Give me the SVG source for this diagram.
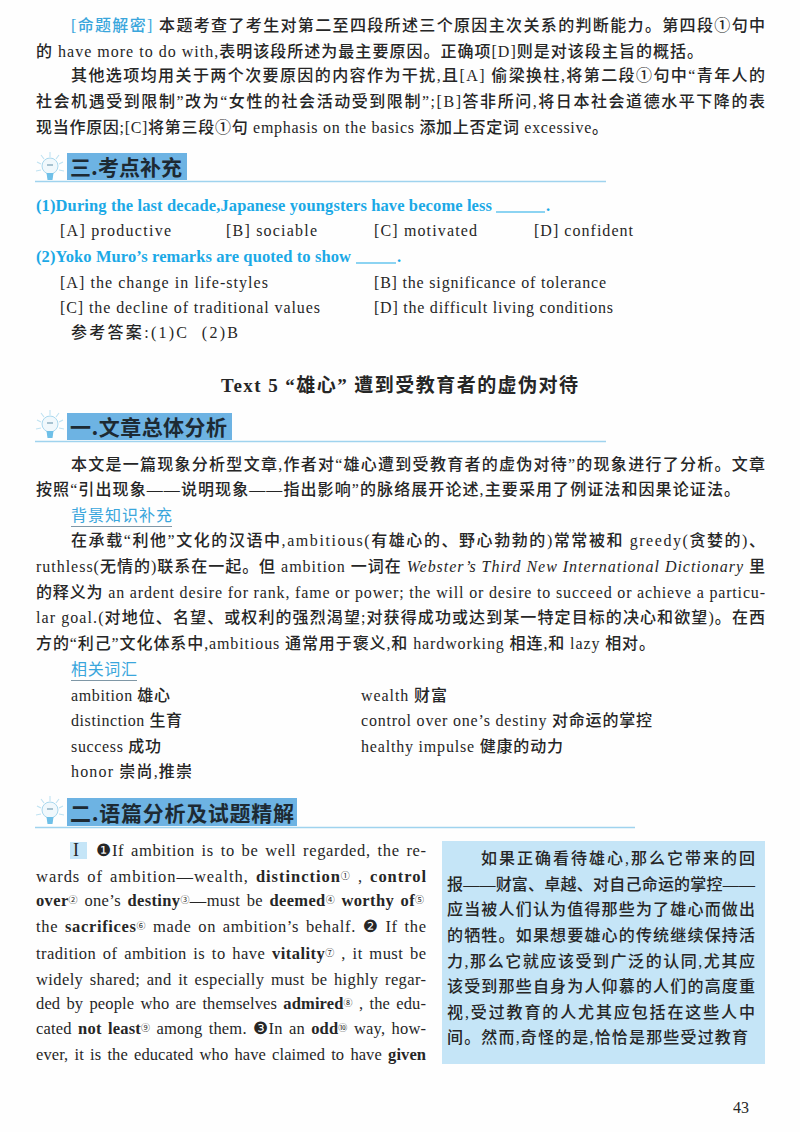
<svg xmlns="http://www.w3.org/2000/svg" width="800" height="1132" viewBox="0 0 800 1132">
<style>
text{font-family:"Liberation Serif","Noto Sans CJK SC",sans-serif;font-size:16px;fill:#262626;white-space:pre}
.cn{font-weight:500}
.bl{fill:#3aa6dc}
.q{fill:#1ba9e6;font-weight:700;font-size:16.5px}
.h{font-family:"Noto Sans CJK SC",sans-serif;font-size:21px;font-weight:700;fill:#1d2a33}
.hb{fill:#6db3e3}
.hl{stroke:#9fd3ee;stroke-width:1.6;fill:none}
.u{stroke:#7f97a6;stroke-width:1;fill:none}
.e{font-size:16.5px;word-spacing:2px}
.s{font-size:9px;baseline-shift:35%;font-weight:400}
.b{font-weight:700}
.n{font-family:"DejaVu Sans",sans-serif;font-size:17px}
.ray{stroke:#bfe2f2;stroke-width:1.1;fill:none}
</style>
<defs>
<g id="bulb">
<path class="ray" d="M14 1V6M5 4L8 8M23 4L20 8M1 11L5 13M27 11L23 13M0 20L5 19M28 20L23 19"/>
<circle cx="14" cy="15" r="8" fill="#f0f8fc" stroke="#a9d8ee"/>
<path d="M11 14H17" stroke="#8fb0c2" stroke-width="1.500"/>
<path d="M10.500 22L17.500 22L16.500 29H11.500Z" fill="#6fc0e8"/>
</g>
</defs>
<rect width="800" height="1132" fill="#fefefe"/>

<text x="71" y="31" textLength="694" class="cn"><tspan class="bl">[命题解密]</tspan> 本题考查了考生对第二至四段所述三个原因主次关系的判断能力。第四段①句中</text>
<text x="36" y="57" textLength="667" class="cn">的 have more to do with,表明该段所述为最主要原因。正确项[D]则是对该段主旨的概括。</text>
<text x="71" y="81" textLength="694" class="cn">其他选项均用关于两个次要原因的内容作为干扰,且[A] 偷梁换柱,将第二段①句中“青年人的</text>
<text x="36" y="107" textLength="729" class="cn">社会机遇受到限制”改为“女性的社会活动受到限制”;[B]答非所问,将日本社会道德水平下降的表</text>
<text x="36" y="133" textLength="572" class="cn">现当作原因;[C]将第三段①句 emphasis on the basics 添加上否定词 excessive。</text>

<use href="#bulb" x="36" y="151"/>
<rect class="hb" x="67" y="153" width="120" height="27"/>
<text class="h" x="70" y="175" textLength="112">三.考点补充</text>
<path class="hl" d="M35 181.500H606"/>

<text class="q" x="36" y="211" textLength="456">(1)During the last decade,Japanese youngsters have become less</text>
<path d="M496 212H545" stroke="#1ba9e6" stroke-width="1"/>
<text class="q" x="546" y="211">.</text>
<text x="60" y="236" textLength="111">[A] productive</text>
<text x="226" y="236" textLength="91">[B] sociable</text>
<text x="374" y="236" textLength="103">[C] motivated</text>
<text x="534" y="236" textLength="99">[D] confident</text>
<text class="q" x="36" y="262" textLength="315">(2)Yoko Muro’s remarks are quoted to show</text>
<path d="M356 263H396" stroke="#1ba9e6" stroke-width="1"/>
<text class="q" x="397" y="262">.</text>
<text x="60" y="288" textLength="208">[A] the change in life-styles</text>
<text x="374" y="288" textLength="232">[B] the significance of tolerance</text>
<text x="60" y="313" textLength="260">[C] the decline of traditional values</text>
<text x="374" y="313" textLength="239">[D] the difficult living conditions</text>
<text x="71" y="338" textLength="167" class="cn">参考答案:(1)C  (2)B</text>

<text x="221" y="392" textLength="357" style="font-size:19px;font-weight:700">Text 5 “雄心” 遭到受教育者的虚伪对待</text>

<use href="#bulb" x="36" y="409"/>
<rect class="hb" x="67" y="413" width="165" height="27"/>
<text class="h" x="70" y="435" textLength="157">一.文章总体分析</text>
<path class="hl" d="M35 441.500H606"/>

<text x="71" y="470" textLength="694" class="cn">本文是一篇现象分析型文章,作者对“雄心遭到受教育者的虚伪对待”的现象进行了分析。文章</text>
<text x="36" y="495" textLength="704" class="cn">按照“引出现象——说明现象——指出影响”的脉络展开论述,主要采用了例证法和因果论证法。</text>
<text x="71" y="521" class="bl" textLength="101">背景知识补充</text>
<path class="u" d="M71 526.500H172"/>
<text x="71" y="546" textLength="694" class="cn">在承载“利他”文化的汉语中,ambitious(有雄心的、野心勃勃的)常常被和 greedy(贪婪的)、</text>
<text x="36" y="572" textLength="729" class="cn">ruthless(无情的)联系在一起。但 ambition 一词在 <tspan font-style="italic">Webster’s Third New International Dictionary</tspan> 里</text>
<text x="36" y="598" textLength="729" class="cn">的释义为 an ardent desire for rank, fame or power; the will or desire to succeed or achieve a particu-</text>
<text x="36" y="623" textLength="729" class="cn">lar goal.(对地位、名望、或权利的强烈渴望;对获得成功或达到某一特定目标的决心和欲望)。在西</text>
<text x="36" y="649" textLength="619" class="cn">方的“利己”文化体系中,ambitious 通常用于褒义,和 hardworking 相连,和 lazy 相对。</text>
<text x="71" y="675" class="bl" textLength="66">相关词汇</text>
<path class="u" d="M71 680.500H137"/>
<text x="71" y="701" textLength="99" class="cn">ambition 雄心</text>
<text x="361" y="701" textLength="86" class="cn">wealth 财富</text>
<text x="71" y="726" textLength="111" class="cn">distinction 生育</text>
<text x="361" y="726" textLength="291" class="cn">control over one’s destiny 对命运的掌控</text>
<text x="71" y="752" textLength="90" class="cn">success 成功</text>
<text x="361" y="752" textLength="202" class="cn">healthy impulse 健康的动力</text>
<text x="71" y="777" textLength="121" class="cn">honor 崇尚,推崇</text>

<use href="#bulb" x="36" y="795"/>
<rect class="hb" x="67" y="798" width="230" height="28"/>
<text class="h" x="70" y="821" textLength="224">二.语篇分析及试题精解</text>
<path class="hl" d="M35 827.500H635"/>

<rect x="70" y="842" width="17" height="17" fill="#c5e5f7"/>
<text x="73" y="856" style="font-size:18px">I</text>
<text x="96" y="856" textLength="330" class="e"><tspan class="n">❶</tspan>If ambition is to be well regarded, the re-</text>
<text x="36" y="882" textLength="390" class="e">wards of ambition—wealth, <tspan class="b">distinction</tspan><tspan class="s">①</tspan> , <tspan class="b">control</tspan></text>
<text x="36" y="906" textLength="388" class="e"><tspan class="b">over</tspan><tspan class="s">②</tspan> one’s <tspan class="b">destiny</tspan><tspan class="s">③</tspan>—must be <tspan class="b">deemed</tspan><tspan class="s">④</tspan> <tspan class="b">worthy of</tspan><tspan class="s">⑤</tspan></text>
<text x="36" y="932" textLength="390" class="e">the <tspan class="b">sacrifices</tspan><tspan class="s">⑥</tspan> made on ambition’s behalf. <tspan class="n">❷</tspan> If the</text>
<text x="36" y="959" textLength="390" class="e">tradition of ambition is to have <tspan class="b">vitality</tspan><tspan class="s">⑦</tspan> , it must be</text>
<text x="36" y="985" textLength="390" class="e">widely shared; and it especially must be highly regar-</text>
<text x="36" y="1009" textLength="390" class="e">ded by people who are themselves <tspan class="b">admired</tspan><tspan class="s">⑧</tspan> , the edu-</text>
<text x="36" y="1034" textLength="390" class="e">cated <tspan class="b">not least</tspan><tspan class="s">⑨</tspan> among them. <tspan class="n">❸</tspan>In an <tspan class="b">odd</tspan><tspan class="s">⑩</tspan> way, how-</text>
<text x="36" y="1060" textLength="390" class="e">ever, it is the educated who have claimed to have <tspan class="b">given</tspan></text>

<rect x="442" y="841" width="323" height="223" fill="#c5e5f7"/>
<g class="cn">
<text x="481" y="864" textLength="274">如果正确看待雄心,那么它带来的回</text>
<text x="447" y="890" textLength="308">报——财富、卓越、对自己命运的掌控——</text>
<text x="447" y="915" textLength="308">应当被人们认为值得那些为了雄心而做出</text>
<text x="447" y="941" textLength="308">的牺牲。如果想要雄心的传统继续保持活</text>
<text x="447" y="967" textLength="308">力,那么它就应该受到广泛的认同,尤其应</text>
<text x="447" y="992" textLength="308">该受到那些自身为人仰慕的人们的高度重</text>
<text x="447" y="1018" textLength="308">视,受过教育的人尤其应包括在这些人中</text>
<text x="447" y="1043" textLength="301">间。然而,奇怪的是,恰恰是那些受过教育</text>
</g>
<text x="733" y="1113" style="font-size:16px">43</text>
</svg>
